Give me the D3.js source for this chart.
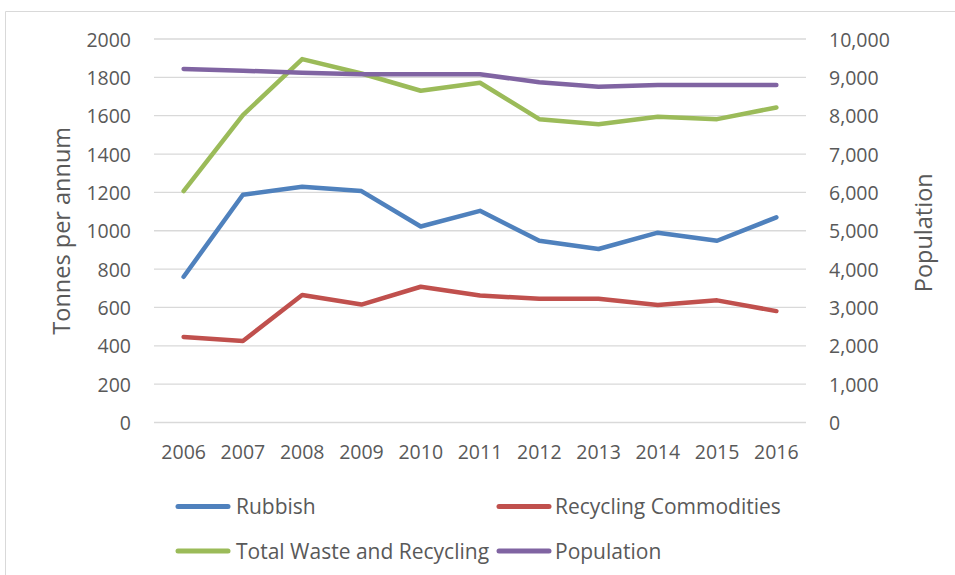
<!DOCTYPE html>
<html>
<head>
<meta charset="utf-8">
<script src="https://cdn.jsdelivr.net/npm/d3@7"></script>
<style>
  html, body { margin: 0; padding: 0; background: #fff; }
  svg text { font-family: "Open Sans", sans-serif; fill: #595959; }
</style>
</head>
<body>
<svg id="chart" width="955" height="575"></svg>
<script>
// Annual waste tonnages and population, 2006–2016
const years = ["2006", "2007", "2008", "2009", "2010", "2011", "2012", "2013", "2014", "2015", "2016"];
const rubbish = [760, 1188, 1230, 1207, 1022, 1104, 948, 905, 990, 948, 1070];
const recycling = [446, 425, 665, 615, 708, 662, 645, 645, 613, 637, 581];
const totalWaste = [1207, 1603, 1895, 1820, 1730, 1772, 1582, 1555, 1594, 1582, 1643];
const population = [9220, 9172, 9122, 9080, 9080, 9080, 8870, 8756, 8800, 8800, 8800];
const leftTicks = [0, 200, 400, 600, 800, 1000, 1200, 1400, 1600, 1800, 2000];
const rightTicks = [0, 1000, 2000, 3000, 4000, 5000, 6000, 7000, 8000, 9000, 10000];

const seriesList = [
  { name: "Rubbish", values: rubbish, color: "#4F81BD", axis: "left" },
  { name: "Recycling Commodities", values: recycling, color: "#C0504D", axis: "left" },
  { name: "Total Waste and Recycling", values: totalWaste, color: "#9BBB59", axis: "left" },
  { name: "Population", values: population, color: "#8064A2", axis: "right" }
];

const svg = d3.select("#chart");
const plot = { left: 154, right: 806, top: 39, bottom: 422.5 };

// outer frame
svg.append("path")
  .attr("d", `M5.5,575 L5.5,11.5 L955,11.5`)
  .attr("fill", "none").attr("stroke", "#D9D9D9").attr("stroke-width", 1);

const x = d3.scaleBand().domain(years).range([plot.left, plot.right]);
const yL = d3.scaleLinear().domain([0, 2000]).range([plot.bottom, plot.top]);
const yR = d3.scaleLinear().domain([0, 10000]).range([plot.bottom, plot.top]);

// horizontal gridlines
svg.append("g").selectAll("line").data(leftTicks).join("line")
  .attr("x1", plot.left).attr("x2", plot.right)
  .attr("y1", d => yL(d)).attr("y2", d => yL(d))
  .attr("stroke", "#D9D9D9").attr("stroke-width", 1.3);

// left axis labels
const leftAxis = svg.append("g").attr("transform", `translate(${plot.left - 23},0)`)
  .call(d3.axisLeft(yL).tickValues(leftTicks).tickSize(0).tickPadding(0).tickFormat(d3.format("d")));
leftAxis.select(".domain").remove();
leftAxis.selectAll("text").attr("font-size", 19.5).attr("dy", "0.36em");

// right axis labels
const rightAxis = svg.append("g").attr("transform", `translate(${plot.right + 23},0)`)
  .call(d3.axisRight(yR).tickValues(rightTicks).tickSize(0).tickPadding(0).tickFormat(d3.format(",")));
rightAxis.select(".domain").remove();
rightAxis.selectAll("text").attr("font-size", 19.5).attr("dy", "0.36em");

// category labels
const bottomAxis = svg.append("g").attr("transform", `translate(0,${plot.bottom + 29})`)
  .call(d3.axisBottom(x).tickSize(0).tickPadding(0));
bottomAxis.select(".domain").remove();
bottomAxis.selectAll("text").attr("font-size", 19.5).attr("y", 0).attr("dy", "0.36em");

svg.selectAll(".tick text").attr("fill", "#595959");
svg.selectAll("g").attr("font-family", null);

// axis titles
svg.append("text")
  .attr("transform", `translate(62,${(plot.top + plot.bottom) / 2}) rotate(-90)`)
  .attr("text-anchor", "middle").attr("dy", "0.36em")
  .attr("font-size", 23.5).text("Tonnes per annum");
svg.append("text")
  .attr("transform", `translate(924,${(plot.top + plot.bottom) / 2 + 2}) rotate(-90)`)
  .attr("text-anchor", "middle").attr("dy", "0.36em")
  .attr("font-size", 23.5).text("Population");

// series lines
seriesList.forEach(s => {
  const yScale = s.axis === "left" ? yL : yR;
  const line = d3.line()
    .x((d, i) => x(years[i]) + x.bandwidth() / 2)
    .y(d => yScale(d));
  svg.append("path")
    .datum(s.values)
    .attr("d", line)
    .attr("fill", "none")
    .attr("stroke", s.color)
    .attr("stroke-width", 4.5)
    .attr("stroke-linecap", "round")
    .attr("stroke-linejoin", "round");
});

// legend, two columns by two rows
const legendPos = [
  { sx: 178, tx: 236, y: 506.5 },
  { sx: 499, tx: 555, y: 506.5 },
  { sx: 178, tx: 236, y: 551 },
  { sx: 499, tx: 555, y: 551 }
];
const legend = svg.append("g");
seriesList.forEach((s, i) => {
  const p = legendPos[i];
  legend.append("line")
    .attr("x1", p.sx).attr("x2", p.sx + 50)
    .attr("y1", p.y).attr("y2", p.y)
    .attr("stroke", s.color).attr("stroke-width", 5)
    .attr("stroke-linecap", "round");
  legend.append("text")
    .attr("x", p.tx).attr("y", p.y).attr("dy", "0.36em")
    .attr("font-size", 21).text(s.name);
});
</script>
</body>
</html>
